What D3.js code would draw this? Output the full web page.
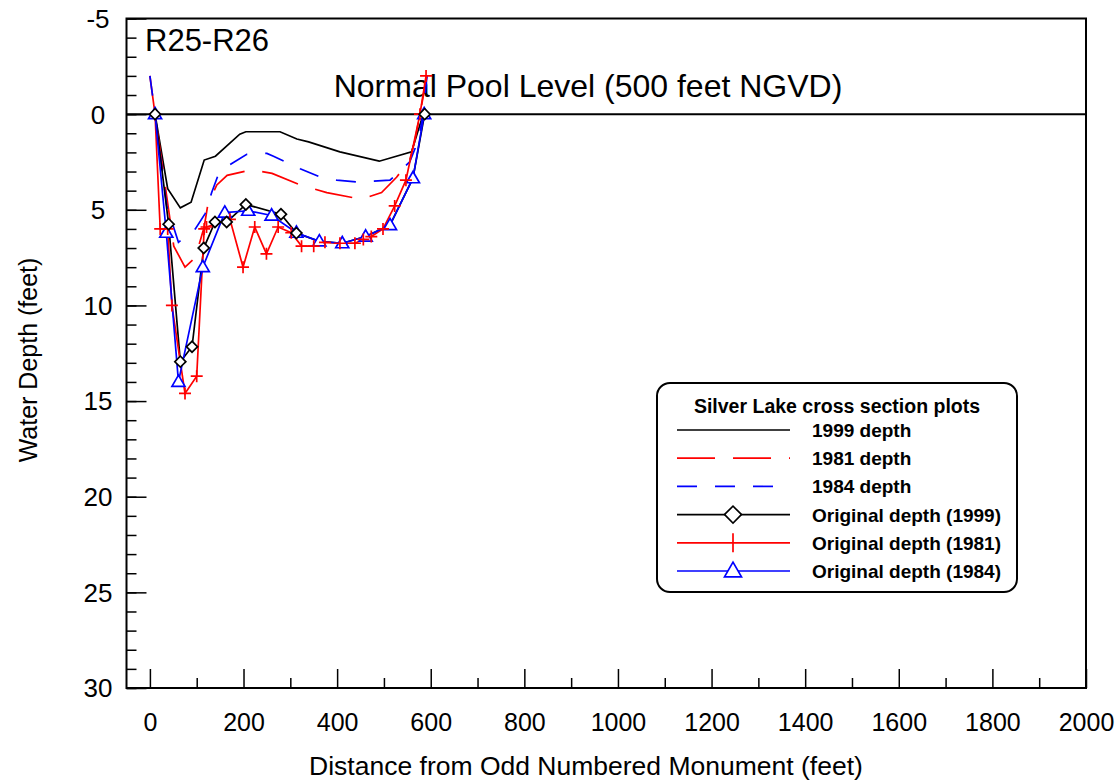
<!DOCTYPE html>
<html>
<head>
<meta charset="utf-8">
<script src="https://cdn.jsdelivr.net/npm/d3@7"></script>
<style>
    body { margin: 0; background: #fff; }
    text { font-family: "Liberation Sans", Arial, sans-serif; }
</style>
</head>
<body>
<svg id="chart" width="1120" height="784"></svg>
<script>
// distance (feet), depth (feet)
let depth1999 = [[11,0],[38,3.9],[65,4.9],[88,4.6],[116,2.4],[140,2.2],[192,1.05],[205,0.92],[278,0.92],
    [314,1.3],[339,1.45],[406,1.97],[490,2.46],[559,1.97],[584,0]];
let depth1981 = [[0,-2],[11,0],[51,6.9],[75,8.0],[97,7.5],[116,5.9],[124,4.7],[143,3.7],[165,3.2],[218,2.9],
    [261,3.1],[321,3.7],[378,4.1],[452,4.45],[495,4.1],[527,3.3],[555,2.4],[566,1.4],[577,0],[592,-2]];
let depth1984 = [[0,-2],[11,0],[36,4.8],[61,6.7],[97,6.0],[118,5.2],[132,4.1],[147,3.1],[164,2.75],[207,2.1],
    [250,2.05],[264,2.2],[321,2.85],[360,3.25],[399,3.45],[445,3.55],[513,3.45],[555,2.5],[573,1.4],[584,0],[592,-2]];
// third value: 1 = surveyed point shown with a marker
let orig1999 = [[11,0,1],[40,5.75,1],[65,12.94,1],[90,12.16,1],[115,7.0,1],[139,5.64,1],[164,5.64,1],[205,4.72,1],
    [280,5.23,1],[313,6.22,1],[362,6.65,0],[411,6.75,0],[461,6.4,0],[513,5.8,0],[562,3.35,0],[587,0,1]];
let orig1981 = [[11,0],[22,6],[38,6],[47,10],[75,14.6],[100,13.7],[116,6],[121,5.9],[171,5.5],[199,8],[224,5.9],
    [249,7.3],[274,5.9],[302,6.2],[324,6.9],[350,6.9],[374,6.7],[406,6.75],[438,6.75],[456,6.55],[473,6.4],
    [498,6.0],[523,4.8],[547,3.45],[577,0],[590,-2]];
let orig1984 = [[11,0],[35,6.2],[61,14],[113,8],[160,5.15],[210,5.05],[260,5.3],[313,6.2],[362,6.65],[411,6.75],
    [461,6.4],[513,5.8],[562,3.35],[586,0]];

let xMajor = d3.range(0, 2001, 200);
let xMinor = d3.range(100, 2000, 200);
let yMajor = d3.range(-5, 31, 5);
let yMinor = d3.range(-5, 31, 1);
let poolLevel = 0;

let legendItems = [
    {label: "1999 depth", color: "#000", dash: null, marker: null},
    {label: "1981 depth", color: "#ff0000", dash: "38,18", marker: null},
    {label: "1984 depth", color: "#0000ff", dash: "20,18", marker: null},
    {label: "Original depth (1999)", color: "#000", dash: null, marker: "diamond"},
    {label: "Original depth (1981)", color: "#ff0000", dash: null, marker: "plus"},
    {label: "Original depth (1984)", color: "#0000ff", dash: null, marker: "triangle"}
];

let margin = {left: 126.5, right: 1086, top: 18.5, bottom: 688};

let svg = d3.select("#chart");

let x = d3.scaleLinear().domain([-50, 2000]).range([margin.left, margin.right]);
let y = d3.scaleLinear().domain([-5, 30]).range([margin.top, margin.bottom]);

// clip
svg.append("defs").append("clipPath").attr("id", "plotClip")
    .append("rect")
    .attr("x", margin.left).attr("y", margin.top)
    .attr("width", margin.right - margin.left).attr("height", margin.bottom - margin.top);

// ticks (inward)
svg.append("g")
    .attr("transform", `translate(0,${margin.bottom})`)
    .call(d3.axisBottom(x).tickValues(xMinor).tickSize(-10).tickFormat(""))
    .call(g => g.select(".domain").remove())
    .call(g => g.selectAll("line").attr("stroke-width", 1.5));
svg.append("g")
    .attr("transform", `translate(0,${margin.bottom})`)
    .call(d3.axisBottom(x).tickValues(xMajor).tickSize(-19).tickPadding(25).tickFormat(d3.format("d")))
    .call(g => g.select(".domain").remove())
    .call(g => g.selectAll("line").attr("stroke-width", 1.5))
    .call(g => g.selectAll("text").attr("font-size", "25px").attr("fill", "#000")
        .attr("font-family", '"Liberation Sans", Arial, sans-serif'));

svg.append("g")
    .attr("transform", `translate(${margin.left},0)`)
    .call(d3.axisLeft(y).tickValues(yMinor).tickSize(-10).tickFormat(""))
    .call(g => g.select(".domain").remove())
    .call(g => g.selectAll("line").attr("stroke-width", 1.5));
svg.append("g")
    .attr("transform", `translate(${margin.left},0)`)
    .call(d3.axisLeft(y).tickValues(yMajor).tickSize(-20).tickFormat(""))
    .call(g => g.select(".domain").remove())
    .call(g => g.selectAll("line").attr("stroke-width", 1.5));

// y tick labels (centered)
svg.append("g").selectAll("text")
    .data(yMajor)
    .enter().append("text")
    .attr("x", 98)
    .attr("y", d => y(d))
    .attr("dy", "0.36em")
    .attr("text-anchor", "middle")
    .attr("font-size", "26px")
    .text(d => d);

// frame
svg.append("rect")
    .attr("x", margin.left).attr("y", margin.top)
    .attr("width", margin.right - margin.left).attr("height", margin.bottom - margin.top)
    .attr("fill", "none").attr("stroke", "#000").attr("stroke-width", 2);

// pool level line
svg.append("line")
    .attr("x1", margin.left).attr("x2", margin.right)
    .attr("y1", y(poolLevel)).attr("y2", y(poolLevel))
    .attr("stroke", "#000").attr("stroke-width", 2);

// labels
svg.append("text").attr("x", 145).attr("y", 51).attr("font-size", "31px").text("R25-R26");
svg.append("text").attr("x", 588).attr("y", 97).attr("text-anchor", "middle")
    .attr("font-size", "32px").text("Normal Pool Level (500 feet NGVD)");
svg.append("text").attr("x", 586).attr("y", 775).attr("text-anchor", "middle")
    .attr("font-size", "26.5px").text("Distance from Odd Numbered Monument (feet)");
svg.append("text").attr("transform", "translate(37,360) rotate(-90)").attr("text-anchor", "middle")
    .attr("font-size", "25px").text("Water Depth (feet)");

// data
let line = d3.line().x(d => x(d[0])).y(d => y(d[1]));
let plot = svg.append("g").attr("clip-path", "url(#plotClip)");

let series = [
    {data: depth1999, color: "#000", dash: null},
    {data: depth1981, color: "#ff0000", dash: "38,18"},
    {data: depth1984, color: "#0000ff", dash: "20,18"},
    {data: orig1999, color: "#000", dash: null},
    {data: orig1981, color: "#ff0000", dash: null},
    {data: orig1984, color: "#0000ff", dash: null}
];
plot.selectAll(".series")
    .data(series)
    .enter().append("path")
    .attr("class", "series")
    .attr("d", d => line(d.data))
    .attr("fill", "none")
    .attr("stroke", d => d.color)
    .attr("stroke-width", 1.7)
    .attr("stroke-dasharray", d => d.dash);

// markers
function markerPath(type, size) {
    if (type === "diamond") {
        return d3.symbol(d3.symbolSquare, (size / Math.SQRT2) ** 2)();
    } else if (type === "triangle") {
        let h = size * 0.866;
        return `M0,${-h * 0.6}L${size / 2},${h * 0.4}L${-size / 2},${h * 0.4}Z`;
    } else {
        let s = size / 2;
        return `M${-s},0H${s}M0,${-s}V${s}`;
    }
}

function drawMarkers(g, data, type, color, size) {
    g.selectAll("path." + type)
        .data(data.filter(d => d[2] !== 0))
        .enter().append("path")
        .attr("class", type)
        .attr("d", markerPath(type, size))
        .attr("transform", d => `translate(${x(d[0])},${y(d[1])})` + (type === "diamond" ? " rotate(45)" : ""))
        .attr("fill", type === "plus" ? "none" : "#fff")
        .attr("stroke", color)
        .attr("stroke-width", 1.7);
}
drawMarkers(plot, orig1984, "triangle", "#0000ff", 13);
drawMarkers(plot, orig1981, "plus", "#ff0000", 12);
drawMarkers(plot, orig1999, "diamond", "#000", 11);

// legend
let legend = svg.append("g");
legend.append("rect")
    .attr("x", 657).attr("y", 383).attr("width", 360).attr("height", 209)
    .attr("rx", 13).attr("ry", 13)
    .attr("fill", "#fff").attr("stroke", "#000").attr("stroke-width", 2);
legend.append("text")
    .attr("x", 837).attr("y", 413).attr("text-anchor", "middle")
    .attr("font-size", "19.5px").attr("font-weight", "bold")
    .text("Silver Lake cross section plots");

let rows = legend.selectAll(".row")
    .data(legendItems)
    .enter().append("g")
    .attr("class", "row")
    .attr("transform", (d, i) => `translate(0,${430 + i * 28.2})`);
rows.append("line")
    .attr("x1", 677).attr("x2", 790)
    .attr("stroke", d => d.color).attr("stroke-width", 1.7)
    .attr("stroke-dasharray", d => d.dash);
rows.filter(d => d.marker).append("path")
    .attr("d", d => d.marker === "plus" ? `M0,-9.5V9.5` : markerPath(d.marker, 17))
    .attr("transform", d => "translate(733,0)" + (d.marker === "diamond" ? " rotate(45)" : ""))
    .attr("fill", d => d.marker === "plus" ? "none" : "#fff")
    .attr("stroke", d => d.color).attr("stroke-width", 1.7);
rows.append("text")
    .attr("x", 812).attr("y", 7)
    .attr("font-size", "19px").attr("font-weight", "bold")
    .text(d => d.label);
</script>
</body>
</html>
